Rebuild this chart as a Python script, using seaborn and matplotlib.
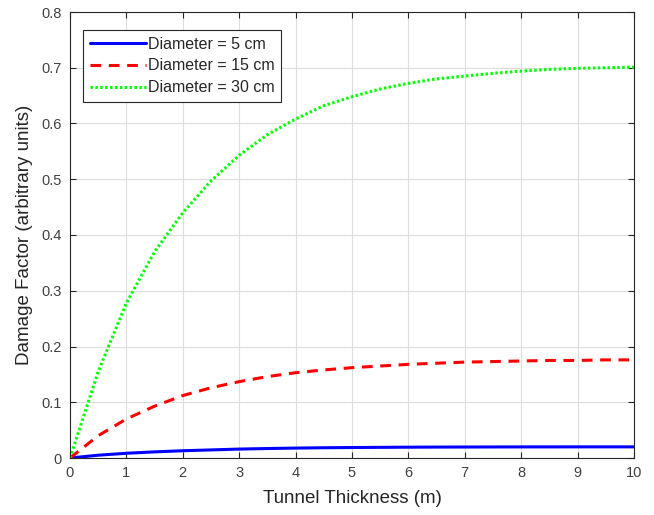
import numpy as np
import pandas as pd
import matplotlib
matplotlib.use("Agg")
import matplotlib.pyplot as plt
import seaborn as sns

thickness = [0, 0.5, 1, 1.5, 2, 2.5, 3, 3.5, 4, 4.5, 5, 5.5, 6, 6.5, 7, 7.5, 8, 8.5, 9, 9.5, 10]
damage_5cm = [0, 0.005, 0.0085, 0.011, 0.013, 0.0145, 0.016, 0.017, 0.0178, 0.0184, 0.0188,
              0.0191, 0.0194, 0.0196, 0.0197, 0.0198, 0.0199, 0.0199, 0.02, 0.02, 0.02]
damage_15cm = [0, 0.04, 0.07, 0.093, 0.112, 0.126, 0.137, 0.146, 0.153, 0.158, 0.162,
               0.165, 0.168, 0.170, 0.172, 0.173, 0.174, 0.175, 0.175, 0.176, 0.176]
damage_30cm = [0, 0.155, 0.278, 0.37, 0.44, 0.497, 0.543, 0.58, 0.608, 0.632, 0.648,
               0.662, 0.672, 0.68, 0.685, 0.69, 0.694, 0.697, 0.699, 0.70, 0.701]
labels = ["Diameter = 5 cm", "Diameter = 15 cm", "Diameter = 30 cm"]

sns.set_theme(style="white")
plt.rcParams['font.family'] = ['Liberation Sans', 'DejaVu Sans']

fig = plt.figure(figsize=(6.54, 5.15), dpi=100)
# axes: x 70..634 px, y 12..458 px
ax = fig.add_axes([70 / 654, (515 - 458) / 515, 564 / 654, 446 / 515])

sns.lineplot(x=thickness, y=damage_5cm, ax=ax, color="#0000ff", linestyle="-", linewidth=2.2, label=labels[0])
sns.lineplot(x=thickness, y=damage_15cm, ax=ax, color="#ff0000", linestyle=(0, (3.5, 2.5)), linewidth=2.2, label=labels[1])
sns.lineplot(x=thickness, y=damage_30cm, ax=ax, color="#00ff00", linestyle=(0, (0.8, 0.8)), linewidth=2.2, label=labels[2])

ax.set_xlim(0, 10)
ax.set_ylim(0, 0.8)
ax.set_xticks(np.arange(0, 11, 1))
ax.set_yticks(np.arange(0, 0.81, 0.1))
ax.set_xticklabels([str(i) for i in range(11)])
ax.set_yticklabels(["0"] + [f"{v:.1f}" for v in np.arange(0.1, 0.81, 0.1)])
ax.grid(True, color="#dcdcdc", linewidth=0.8)
ax.set_axisbelow(True)
for s in ax.spines.values():
    s.set_visible(True)
    s.set_color("#262626")
    s.set_linewidth(0.8)
ax.tick_params(axis="both", which="both", direction="in", length=4, width=0.8, colors="#262626",
               top=True, right=True, bottom=True, left=True, labelsize=10.5, labelcolor="#404040", pad=6)
ax.set_xlabel("Tunnel Thickness (m)", fontsize=13.5, color="#262626", labelpad=7)
ax.set_ylabel("Damage Factor (arbitrary units)", fontsize=13.5, color="#262626", labelpad=6)

leg = ax.legend(loc="upper left", bbox_to_anchor=(13 / 564, 1 - 18 / 446), borderaxespad=0,
                frameon=True, fancybox=False,
                edgecolor="#262626", fontsize=11.5, handlelength=3.5, handletextpad=0.15,
                borderpad=0.42, labelspacing=0.42, framealpha=1)
leg.get_frame().set_linewidth(0.8)
for t in leg.get_texts():
    t.set_color("#262626")

fig.savefig("out.png", dpi=100)
